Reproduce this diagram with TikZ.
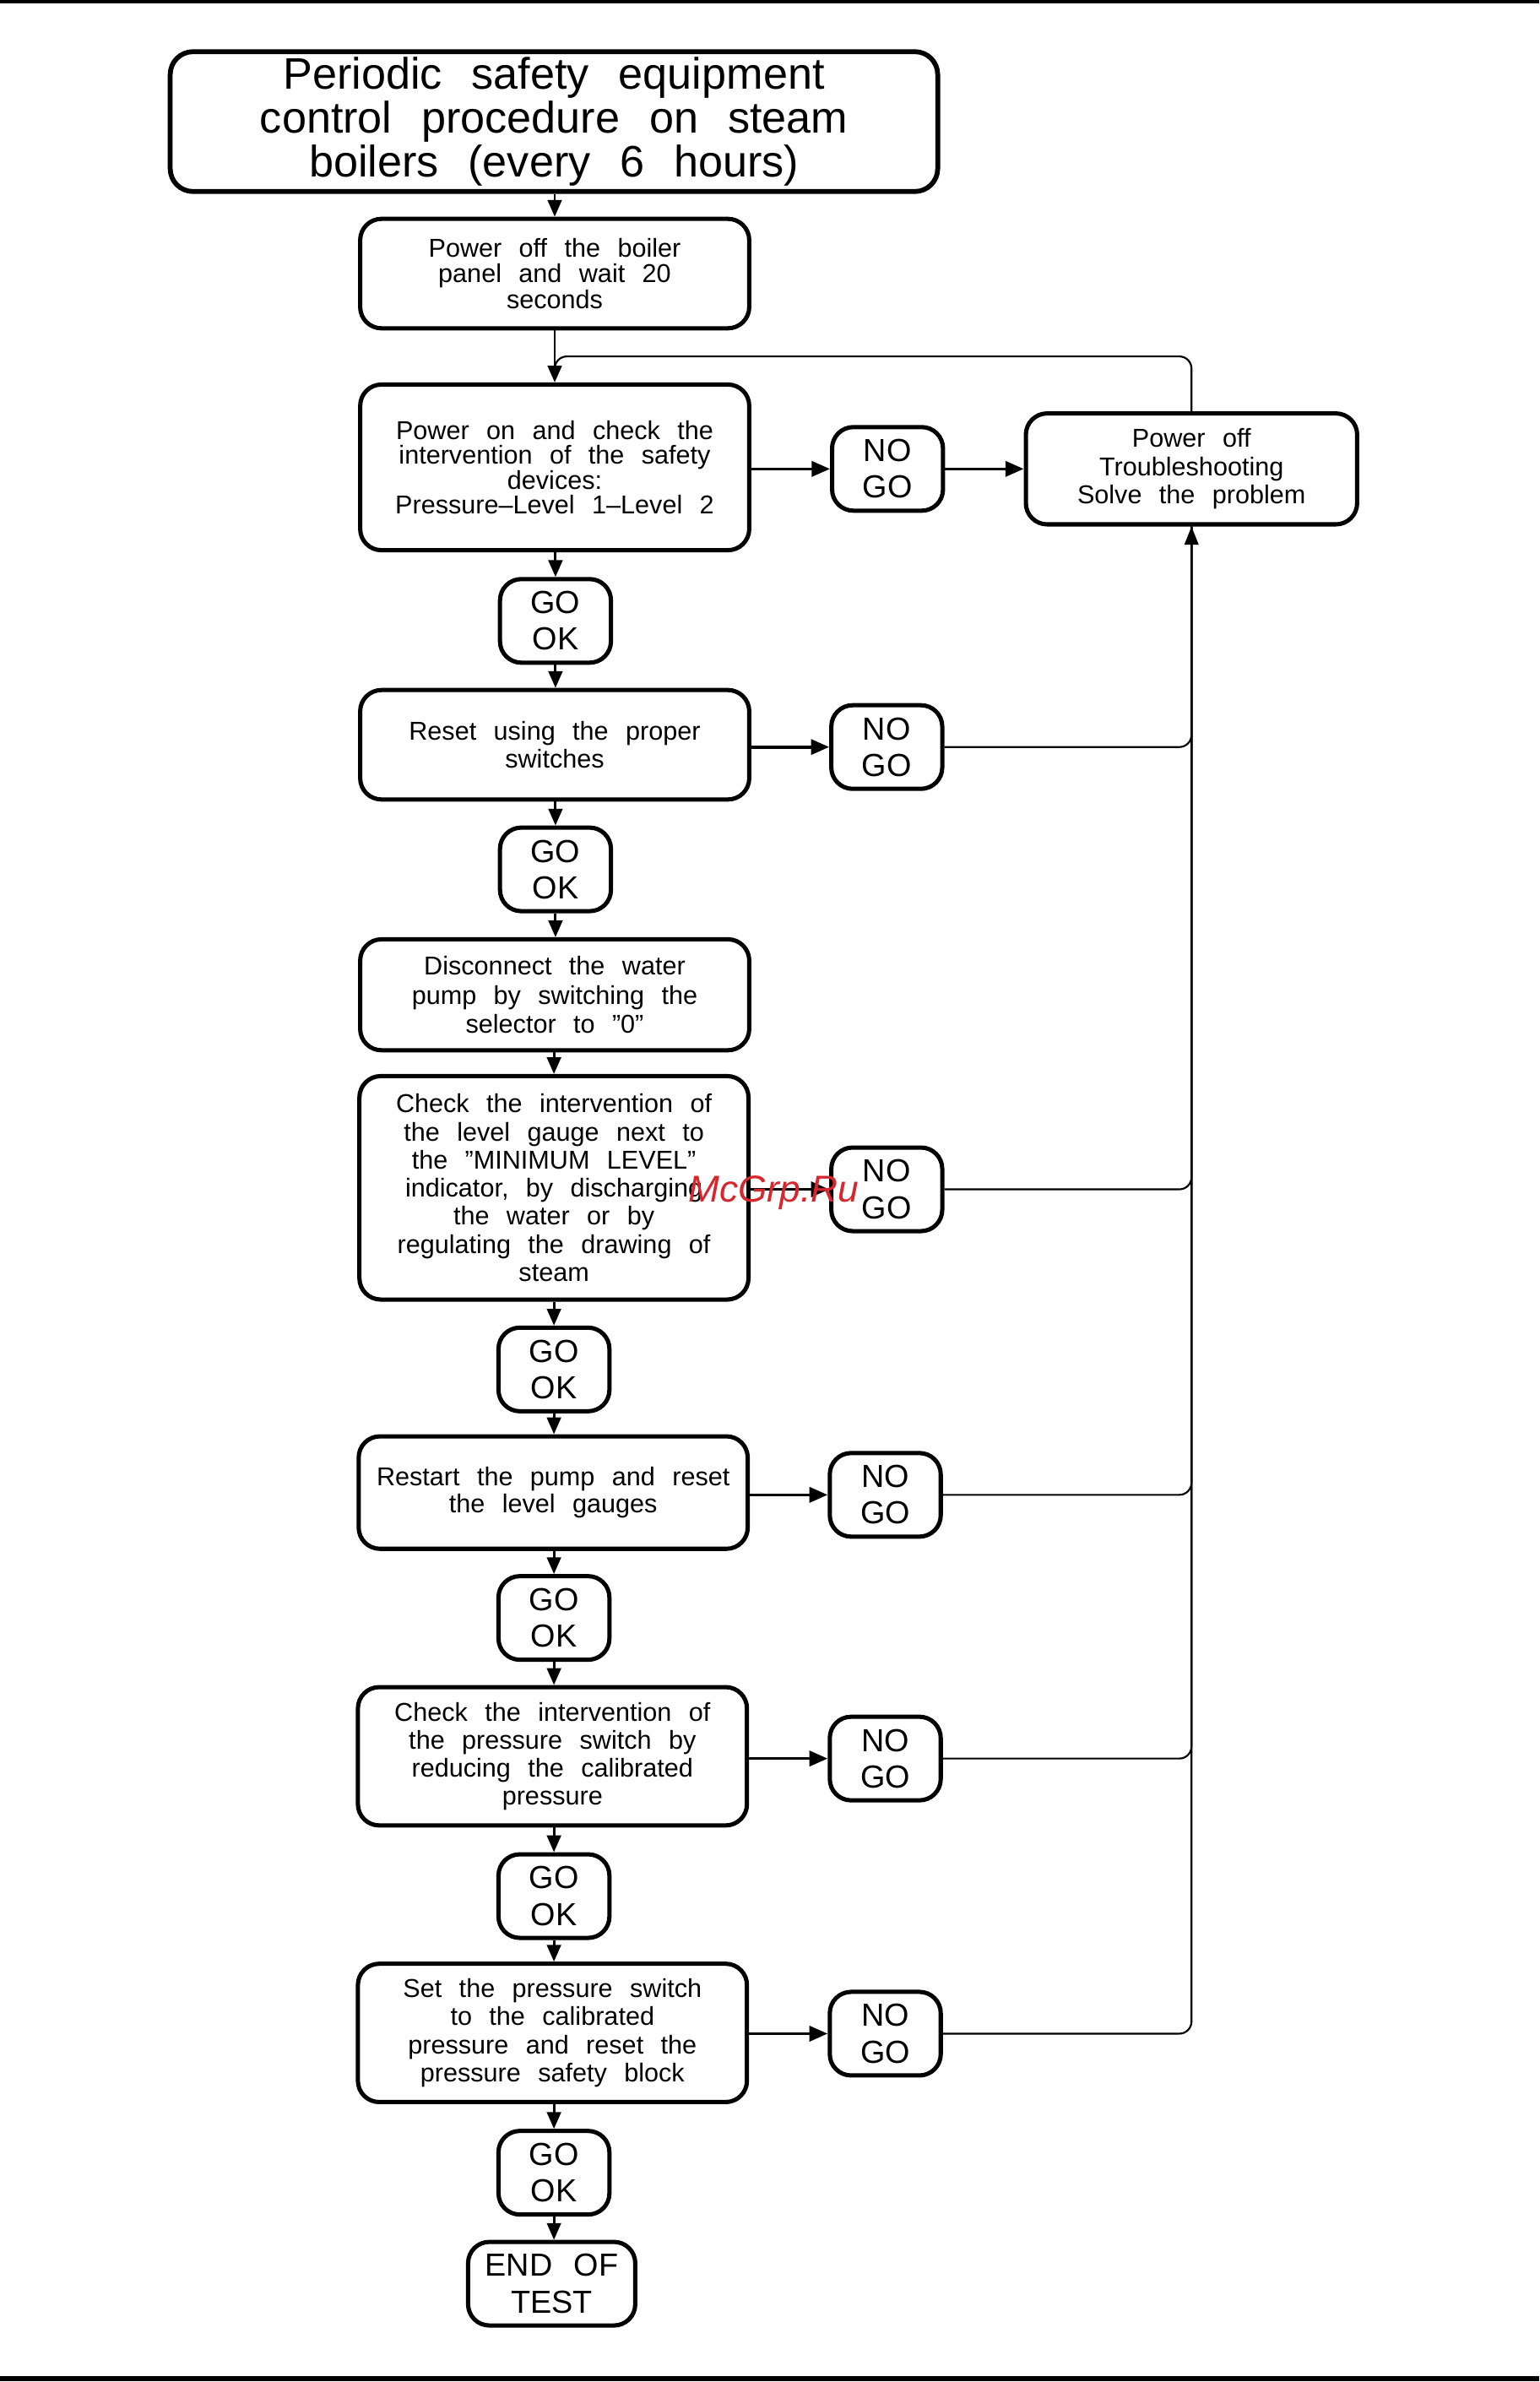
\documentclass[tikz,border=0pt]{standalone}
\usepackage{fontspec}
\setmainfont{Liberation Sans}[WordSpace=2.4]
\newfontfamily\wmfont{Liberation Sans}
\usetikzlibrary{arrows.meta,calc}
\definecolor{wmred}{RGB}{214,38,46}
\begin{document}
\begin{tikzpicture}[x=0.5pt,y=-0.5pt]
\tikzset{
 stepbox/.style={draw, line width=1.4pt, rounded corners=7pt, minimum width=128pt, align=center, inner sep=0pt},
 decbox/.style={draw, line width=1.4pt, rounded corners=7pt, minimum width=36.5pt, minimum height=27.5pt, align=center, inner sep=0pt, font=\fontsize{10.5}{12}\selectfont},
 flow/.style={line width=0.8pt, -{Triangle[length=5.5pt,width=4.6pt]}},
 side/.style={line width=1pt, -{Triangle[length=6pt,width=5pt]}},
 back/.style={line width=0.6pt, rounded corners=4pt},
}
\useasboundingbox (0,0) rectangle (1012.8,1567.2);
\draw[line width=1pt] (0,1) -- (1012.8,1);
\draw[line width=1.5pt] (0,1565) -- (1012.8,1565);

\node[draw, line width=1.6pt, rounded corners=7.5pt, minimum width=252.5pt, minimum height=46pt, align=center, inner sep=0pt, font=\fontsize{14.5}{14.5}\selectfont] (title) at (364.5,80) {Periodic safety equipment\\control procedure on steam\\boilers (every 6 hours)};

\node[stepbox, minimum height=36pt, font=\fontsize{8.5}{8.5}\selectfont] (box1) at (365,180) {Power off the boiler\\panel and wait 20\\seconds};
\node[stepbox, minimum height=54.5pt, font=\fontsize{8.5}{8.2}\selectfont] (box2) at (365,307.5) {Power on and check the\\intervention of the safety\\devices:\\Pressure--Level 1--Level 2};
\node[decbox] (nogo1) at (584,308.5) {NO\\GO};
\node[draw, line width=1.4pt, rounded corners=7pt, minimum width=109pt, minimum height=36.5pt, align=center, inner sep=0pt, font=\fontsize{8.5}{9.25}\selectfont] (trouble) at (784,308.5) {Power off\\Troubleshooting\\Solve the problem};

\node[decbox] (gook1) at (365.5,408.5) {GO\\OK};
\node[stepbox, minimum height=36pt, font=\fontsize{8.5}{9}\selectfont] (box3) at (365,490) {Reset using the proper\\switches};
\node[decbox] (nogo2) at (583.5,491.5) {NO\\GO};

\node[decbox] (gook2) at (365.5,572) {GO\\OK};
\node[stepbox, minimum height=36.5pt, font=\fontsize{8.5}{9.7}\selectfont] (box4) at (365,654.5) {Disconnect the water\\pump by switching the\\selector to ''0''};

\node[stepbox, minimum height=73.5pt, font=\fontsize{8.5}{9.25}\selectfont] (box5) at (364.5,781.5) {Check the intervention of\\the level gauge next to\\the ''MINIMUM LEVEL''\\indicator, by discharging\\the water or by\\regulating the drawing of\\steam};
\node[decbox] (nogo3) at (583.5,782.5) {NO\\GO};

\node[decbox] (gook3) at (364.5,901) {GO\\OK};
\node[stepbox, minimum height=37pt, font=\fontsize{8.5}{9}\selectfont] (box6) at (364,982) {Restart the pump and reset\\the level gauges};
\node[decbox] (nogo4) at (582.5,983.5) {NO\\GO};

\node[decbox] (gook4) at (364.5,1064.5) {GO\\OK};
\node[stepbox, minimum height=45.5pt, font=\fontsize{8.5}{9.2}\selectfont] (box7) at (363.5,1155.5) {Check the intervention of\\the pressure switch by\\reducing the calibrated\\pressure};
\node[decbox] (nogo5) at (582.5,1157) {NO\\GO};

\node[decbox] (gook5) at (364.5,1247.5) {GO\\OK};
\node[stepbox, minimum height=45.5pt, font=\fontsize{8.5}{9.2}\selectfont] (box8) at (363.5,1337.5) {Set the pressure switch\\to the calibrated\\pressure and reset the\\pressure safety block};
\node[decbox] (nogo6) at (582.5,1338) {NO\\GO};

\node[decbox] (gook6) at (364.5,1429.5) {GO\\OK};
\node[decbox, minimum width=55pt] (endt) at (363,1502.5) {END OF\\TEST};

% main vertical flow
\draw[flow] (title.south -| box1.north) -- (box1.north);
\draw[flow] (box1.south) -- (box2.north);
\draw[flow] (box2.south -| gook1.north) -- (gook1.north);
\draw[flow] (gook1.south) -- (gook1.south |- box3.north);
\draw[flow] (box3.south -| gook2.north) -- (gook2.north);
\draw[flow] (gook2.south) -- (gook2.south |- box4.north);
\draw[flow] (box4.south -| box5.north) -- (box5.north);
\draw[flow] (box5.south -| gook3.north) -- (gook3.north);
\draw[flow] (gook3.south) -- (gook3.south |- box6.north);
\draw[flow] (box6.south -| gook4.north) -- (gook4.north);
\draw[flow] (gook4.south) -- (gook4.south |- box7.north);
\draw[flow] (box7.south -| gook5.north) -- (gook5.north);
\draw[flow] (gook5.south) -- (gook5.south |- box8.north);
\draw[flow] (box8.south -| gook6.north) -- (gook6.north);
\draw[flow] (gook6.south) -- (gook6.south |- endt.north);

% side branches
\draw[side] (box2.east |- nogo1.west) -- (nogo1.west);
\draw[side] (nogo1.east) -- (trouble.west);
\draw[side] (box3.east |- nogo2.west) -- (nogo2.west);
\draw[side] (box5.east |- nogo3.west) -- (nogo3.west);
\draw[side] (box6.east |- nogo4.west) -- (nogo4.west);
\draw[side] (box7.east |- nogo5.west) -- (nogo5.west);
\draw[side] (box8.east |- nogo6.west) -- (nogo6.west);

% return lines
\draw[back, -{Triangle[length=6pt,width=4.6pt]}] (nogo6.east) -| (trouble.south);
\draw[back] (nogo5.east) -| (trouble.south);
\draw[back] (nogo4.east) -| (trouble.south);
\draw[back] (nogo3.east) -| (trouble.south);
\draw[back] (nogo2.east) -| (trouble.south);

% loop back to power on
\coordinate (loopc) at ($(box1.south)!0.5!(box2.north)$);
\coordinate (loope) at ($(box1.south)!0.75!(box2.north)$);
\draw[back] (trouble.north) |- (loopc) -- (loope);

% watermark
\node[text=wmred, font=\wmfont\itshape\fontsize{12.3}{12.3}\selectfont, inner sep=0pt] (wm) at (509,785) {McGrp.Ru};
\end{tikzpicture}
\end{document}
